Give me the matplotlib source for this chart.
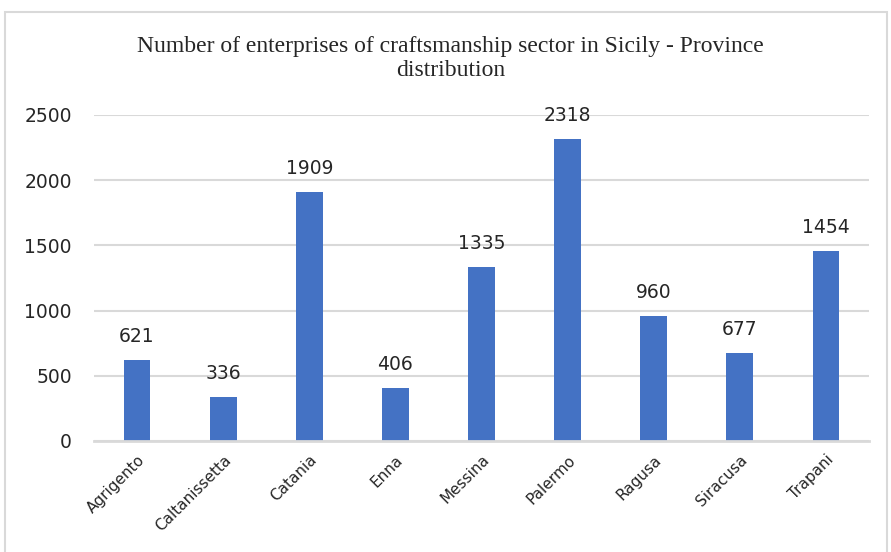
import matplotlib.pyplot as plt
from matplotlib.patches import Rectangle

provinces = ['Agrigento', 'Caltanissetta', 'Catania', 'Enna', 'Messina',
             'Palermo', 'Ragusa', 'Siracusa', 'Trapani']
enterprises = [621, 336, 1909, 406, 1335, 2318, 960, 677, 1454]
yticks = [0, 500, 1000, 1500, 2000, 2500]

bar_color = '#4472C4'
grid_color = '#d9d9d9'

fig = plt.figure(figsize=(8.91, 5.52), dpi=100)
ax = fig.add_axes([0.1055, 0.2011, 0.8698, 0.5906])

x = range(len(provinces))
bars = ax.bar(x, enterprises, width=0.31, color=bar_color, zorder=3)

# value labels above each bar
for xi, v in zip(x, enterprises):
    ax.annotate(str(v), (xi, v), xytext=(0, 10), textcoords='offset points',
                ha='center', va='bottom', fontsize=13.5, family='DejaVu Sans',
                color='#262626')

ax.set_xlim(-0.5, len(provinces) - 0.5)
ax.set_ylim(0, 2500)
ax.set_yticks(yticks)
ax.set_yticklabels([str(t) for t in yticks], fontsize=13.5, color='#262626')
ax.set_xticks(list(x))
ax.set_xticklabels(provinces, rotation=45, ha='right', rotation_mode='anchor',
                   fontsize=11, color='#262626')
ax.tick_params(axis='both', length=0)
ax.tick_params(axis='y', pad=16)
ax.tick_params(axis='x', pad=8)

ax.yaxis.grid(True, color=grid_color, linewidth=1.5, zorder=0)
for side in ['top', 'right', 'left']:
    ax.spines[side].set_visible(False)
ax.spines['bottom'].set_color(grid_color)
ax.spines['bottom'].set_linewidth(2)
ax.spines['bottom'].set_zorder(4)

fig.text(0.506, 0.894,
         'Number of enterprises of craftsmanship sector in Sicily - Province\ndistribution',
         ha='center', va='center', fontsize=17, family='Liberation Serif',
         linespacing=1.15, color='#262626')

# chart frame
fig.patches.append(Rectangle((0.006, -0.05), 0.989, 1.028, transform=fig.transFigure,
                             fill=False, edgecolor='#d9d9d9', linewidth=1.5))

fig.savefig('out.png', dpi=100)
